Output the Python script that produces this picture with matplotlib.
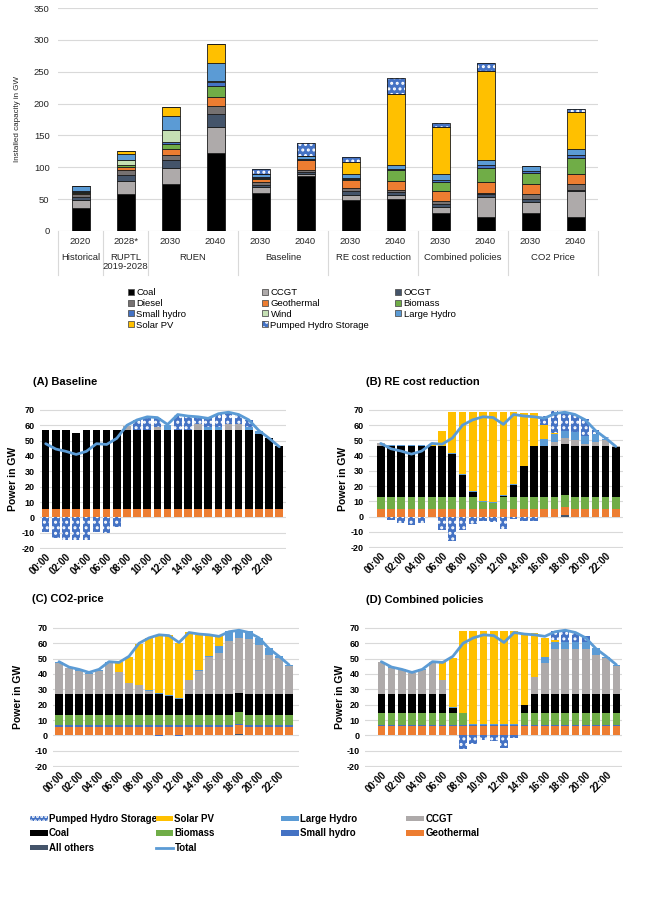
import matplotlib
matplotlib.use("Agg")
from matplotlib import pyplot as plt
from matplotlib.patches import Patch
from matplotlib.lines import Line2D
import numpy as np

plt.rcParams["font.family"] = ["Liberation Sans", "DejaVu Sans"]
plt.rcParams["hatch.linewidth"] = 1.4
plt.rcParams["axes.unicode_minus"] = False

TEXT = "#262626"
GRID = "#D9D9D9"

# ---- installed capacity (top chart) ----
YEARS = ["2020", "2028*", "2030", "2040", "2030", "2040",
         "2030", "2040", "2030", "2040", "2030", "2040"]
GROUPS = ["Historical", "RUPTL\n2019-2028", "RUEN", "Baseline",
          "RE cost reduction", "Combined policies", "CO2 Price"]
GROUP_SIZE = [1, 1, 2, 2, 2, 2, 2]

cap_coal = [36, 58, 74, 122, 59, 86, 48, 50, 29, 21.5, 29, 21.5]
cap_ccgt = [13, 20, 25, 41, 10, 4, 8, 7, 8, 31.5, 17, 40.5]
cap_ocgt = [4, 10, 12, 21, 3.5, 3, 7, 4, 6, 5, 5, 2.5]
cap_diesel = [5, 7, 8, 12.5, 4, 2, 5, 3, 4, 2, 7, 8.5]
cap_geo = [2, 5, 9, 13.5, 4.5, 17, 12, 15, 15, 17, 15, 17]
cap_bio = [1, 3, 8, 17, 2, 0, 1, 16, 15, 22, 18, 25]
cap_shydro = [2, 1, 4, 7, 2, 1.5, 2, 2, 3, 5, 3, 5]
cap_wind = [0, 7, 18, 1, 0, 0, 0, 0, 0, 0, 0, 0]
cap_lhydro = [8, 10, 22, 28, 4, 3.5, 6, 7, 9, 8, 8, 8]
cap_solar = [0, 4, 14, 31, 0, 0, 19, 111, 74, 139, 0, 59]
cap_phs = [0, 0, 0, 0, 9, 21, 8, 25, 6, 13, 0, 4]

CAP_TECHS = ["Coal", "CCGT", "OCGT", "Diesel", "Geothermal", "Biomass",
             "Small hydro", "Wind", "Large Hydro", "Solar PV",
             "Pumped Hydro Storage"]
CAP_SERIES = [cap_coal, cap_ccgt, cap_ocgt, cap_diesel, cap_geo, cap_bio,
              cap_shydro, cap_wind, cap_lhydro, cap_solar, cap_phs]

COLOR = {
    "Coal": "#000000",
    "CCGT": "#AEAAAA",
    "OCGT": "#44546A",
    "Diesel": "#767171",
    "Geothermal": "#ED7D31",
    "Biomass": "#70AD47",
    "Small hydro": "#4472C4",
    "Wind": "#C5E0B4",
    "Large Hydro": "#5B9BD5",
    "Solar PV": "#FFC000",
    "Pumped Hydro Storage": "#4472C4",
    "All others": "#44546A",
    "Total": "#5B9BD5",
}

# ---- hourly dispatch (bottom panels) ----
HOURS = ["00:00", "01:00", "02:00", "03:00", "04:00", "05:00", "06:00", "07:00",
         "08:00", "09:00", "10:00", "11:00", "12:00", "13:00", "14:00", "15:00",
         "16:00", "17:00", "18:00", "19:00", "20:00", "21:00", "22:00", "23:00"]
total = [48, 44.5, 43, 41, 43, 48, 47.5, 51.5, 60, 63.5, 65.5, 65,
         60.5, 67, 66, 65.5, 64.5, 67.5, 68.5, 67, 63.5, 56.5, 51.5, 46]

# (A) Baseline
a_others = [0] * 24
a_geo = [5.3] * 24
a_shydro = [0] * 24
a_bio = [0] * 24
a_coal = [51.7, 51.7, 51.7, 49.7, 51.7, 51.7, 51.7, 51.7, 51.7, 51.7, 51.7, 51.7,
          51.7, 51.7, 51.7, 51.7, 51.7, 51.7, 51.7, 51.7, 51.7, 49.2, 46.2, 41.0]
a_ccgt = [0, 0, 0, 0, 0, 0, 0, 0, 2.5, 0, 0, 2,
          0, 0, 0, 4, 0, 0, 4, 4, 0, 0, 0, 0]
a_lhydro = [0, 0, 0, 0, 0, 0, 0, 0, 0, 0, 0, 0,
            3.5, 0, 0, 0, 2, 2, 0, 0, 2, 2, 0, 0]
a_solar = [0] * 24
a_phs = [-9.5, -13.5, -14.5, -14.5, -14.5, -9.5, -10, -6, 0, 6.5, 8.5, 6,
         0, 10, 9, 4.5, 5.5, 8.5, 7.5, 6, 4.5, 0, 0, 0]

# (B) RE cost reduction
b_others = [0] * 18 + [1.0] + [0] * 5
b_geo = [5.3] * 18 + [5.5] + [5.3] * 5
b_shydro = [0] * 24
b_bio = [7.5, 7.5, 7.5, 7.5, 7.5, 7.5, 7.5, 7.5, 7.5, 7.5, 4.6, 3.9,
         7.5, 7.5, 7.5, 7.5, 7.5, 7.5, 7.5, 7.5, 7.5, 7.5, 7.5, 7.5]
b_coal = [33.4, 33.4, 33.4, 33.4, 33.4, 33.4, 33.4, 28.4, 14.5, 3.3, 0, 0,
          0.7, 7.8, 20.1, 33.4, 33.4, 33.4, 33.5, 33.4, 33.4, 33.4, 33.4, 33.0]
b_ccgt = [1.8, 0, 0, 0, 0, 0, 0, 0, 0, 0, 0, 0,
          0, 0, 0, 0, 0, 2.8, 4, 4, 1.5, 3, 4, 0.3]
b_lhydro = [0, 0.5, 0.5, 0.5, 0.5, 0, 0, 0.6, 0.7, 0.5, 0.5, 0.3,
            0.5, 0.6, 0.6, 0.4, 4.5, 5, 4.5, 5, 5, 5, 0.5, 0]
b_solar = [0, 0, 0, 0, 0, 1.0, 9.8, 26.9, 40.7, 52.1, 58.3, 59.3,
           54.7, 47.5, 34.8, 21.7, 9.6, 0.8, 0, 0, 0, 0, 0, 0]
b_phs = [0, -2.5, -4, -5.5, -4, 0, -8.5, -16, -8.5, -5, -3, -3.5,
         -8, -1.5, -3, -3, 5.8, 14.5, 12.5, 11.5, 11.5, 2.8, 1.3, 0]

# (C) CO2-price
c_others = [0] * 18 + [1.2] + [0] * 5
c_geo = [5.4] * 18 + [5.3] + [5.4] * 5
c_shydro = [1.1] * 18 + [1.0] + [1.1] * 5
c_bio = [7.1] * 18 + [7.5] + [7.1] * 5
c_coal = [13.3, 13.3, 13.3, 13.3, 13.3, 13.3, 13.3, 13.3, 13.3, 13.3, 13.3, 12.0,
          10.1, 13.3, 13.3, 13.3, 13.3, 13.3, 12.8, 13.3, 13.3, 13.3, 13.3, 13.3]
c_ccgt = [20.5, 16.8, 15.1, 13.4, 15.1, 20.5, 14.1, 6.9, 5.8, 2.1, 0, 0,
          0, 9.1, 15.1, 24.1, 26.9, 34.9, 35.7, 35.6, 32.3, 25.4, 23.3, 18.3]
c_lhydro = [0.5, 0.5, 0.5, 0.5, 0.5, 0.5, 0.4, 0.4, 0.4, 0.4, 0.4, 0.4,
            0.4, 0.4, 0.4, 0.4, 4.2, 6.0, 5.4, 5.3, 4.3, 4.7, 1.5, 0.8]
c_solar = [0, 0, 0, 0, 0, 0, 6.1, 16.8, 26.6, 34.1, 38.4, 39.5,
           35.9, 31.0, 23.3, 14.3, 6.6, 0, 0, 0, 0, 0, 0, 0]
c_phs = [0, 0, 0, 0, 0, 0, 0, 0, 0, 0, -0.5, 0,
         -0.4, 0, 0, 0, 0, 0, 0, 0, 0, 0, 0, 0]

# (D) Combined policies
d_others = [0] * 24
d_geo = [5.8] * 24
d_shydro = [1.0] * 24
d_bio = [7.5, 7.5, 7.5, 7.5, 7.5, 7.5, 7.5, 7.5, 7.5, 0, 0, 0,
         0, 0, 7.5, 7.5, 7.5, 7.5, 7.5, 7.5, 7.5, 7.5, 7.5, 7.5]
d_coal = [12.9, 12.9, 12.9, 12.9, 12.9, 12.9, 12.9, 3.7, 0, 0, 0, 0,
          0, 0, 5.4, 12.9, 12.9, 12.9, 12.9, 12.9, 12.9, 12.9, 12.9, 12.9]
d_ccgt = [20.3, 16.7, 15.4, 13.3, 15.4, 20.3, 8.6, 0, 0, 0, 0, 0,
          0, 0, 0, 10.7, 19.7, 28.9, 28.9, 28.9, 28.9, 25.3, 23.1, 18.2]
d_lhydro = [0.4, 0.4, 0.4, 0.4, 0.4, 0.4, 0, 0.3, 0.3, 0.7, 0.7, 0.7,
            0.7, 0.7, 0.3, 0.3, 4.3, 4.7, 4.7, 4.7, 4.7, 4.7, 0.9, 0.6]
d_solar = [0, 0, 0, 0, 0, 0, 11.7, 32.0, 53.7, 60.8, 60.8, 60.8,
           60.8, 60.8, 46.8, 28.6, 12.4, 1.1, 0, 0, 0, 0, 0, 0]
d_phs = [0, 0, 0, 0, 0, 0, 0, 0, -8.7, -5.5, -3, -3.5,
         -8.5, -1.5, 0, 0, 0, 6, 8.1, 6.6, 3.9, 0, 0, 0]

STACK = ["All others", "Geothermal", "Small hydro", "Biomass", "Coal",
         "CCGT", "Large Hydro", "Solar PV", "Pumped Hydro Storage"]
PANELS = [
    ("(A) Baseline", [a_others, a_geo, a_shydro, a_bio, a_coal, a_ccgt, a_lhydro, a_solar, a_phs]),
    ("(B) RE cost reduction", [b_others, b_geo, b_shydro, b_bio, b_coal, b_ccgt, b_lhydro, b_solar, b_phs]),
    ("(C) CO2-price", [c_others, c_geo, c_shydro, c_bio, c_coal, c_ccgt, c_lhydro, c_solar, c_phs]),
    ("(D) Combined policies", [d_others, d_geo, d_shydro, d_bio, d_coal, d_ccgt, d_lhydro, d_solar, d_phs]),
]

W, H = 668, 924


def frac(left, top, right, bottom):
    return [left / W, 1 - bottom / H, (right - left) / W, (bottom - top) / H]


fig = plt.figure(figsize=(W / 100, H / 100), dpi=100)

# ================= top chart =================
ax = fig.add_axes(frac(58, 8, 598, 231))
x = np.arange(len(YEARS))
bottom = np.zeros(len(YEARS))
for name, vals in zip(CAP_TECHS, CAP_SERIES):
    vals = np.array(vals, dtype=float)
    if name == "Pumped Hydro Storage":
        ax.bar(x, vals, 0.4, bottom=bottom, color=COLOR[name], edgecolor="white",
               hatch="...", linewidth=0, zorder=2)
        ax.bar(x, vals, 0.4, bottom=bottom, fill=False, edgecolor="#1a1a1a",
               linewidth=0.6, zorder=3)
    else:
        ax.bar(x, vals, 0.4, bottom=bottom, color=COLOR[name], edgecolor="#1a1a1a",
               linewidth=0.6, zorder=2)
    bottom += vals
ax.set_xlim(-0.5, len(YEARS) - 0.5)
ax.set_ylim(0, 350)
ax.set_yticks(np.arange(0, 351, 50))
ax.set_xticks([])
ax.grid(axis="y", color=GRID, linewidth=0.8)
ax.set_axisbelow(True)
for s in ax.spines.values():
    s.set_visible(False)
ax.tick_params(axis="y", length=0, labelsize=6.8, labelcolor=TEXT, pad=6)

trans = ax.get_xaxis_transform()
for i, yr in enumerate(YEARS):
    ax.text(i, -0.045, yr, transform=trans, ha="center", va="center",
            fontsize=6.8, color=TEXT)
edges = np.concatenate([[0], np.cumsum(GROUP_SIZE)]) - 0.5
for g, name in enumerate(GROUPS):
    c = (edges[g] + edges[g + 1]) / 2
    if "\n" in name:
        ax.text(c, -0.098, name, transform=trans, ha="center", va="top",
                fontsize=6.8, color=TEXT, linespacing=1.0)
    else:
        ax.text(c, -0.12, name, transform=trans, ha="center", va="center",
                fontsize=6.8, color=TEXT)
for e in edges:
    ax.plot([e, e], [0, -0.197], transform=trans, clip_on=False, color=GRID, linewidth=0.8)
fig.text(18 / W, 1 - 119.5 / H, "Installed capacity in GW", rotation=90,
         ha="center", va="center", fontsize=5.8, color=TEXT)


def cap_handle(name):
    if name == "Pumped Hydro Storage":
        return (Patch(facecolor=COLOR[name], edgecolor="white", hatch="...", linewidth=0),
                Patch(fill=False, edgecolor="#555555", linewidth=0.6))
    return Patch(facecolor=COLOR[name], edgecolor="#555555", linewidth=0.6)


cols = [CAP_TECHS[0::3], CAP_TECHS[1::3], CAP_TECHS[2::3]]
for cx, names in zip([128, 262, 395], cols):
    fig.legend([cap_handle(n) for n in names], names, loc="upper left",
               bbox_to_anchor=(cx / W, 1 - 288 / H), frameon=False,
               fontsize=6.8, handlelength=0.6, handleheight=0.6,
               handletextpad=0.3, labelspacing=0.2, borderpad=0, borderaxespad=0)

# ================= bottom panels =================
boxes = [
    (frac(40, 409, 286, 549), (-0.56, 23.66), (33, 382), 13),
    (frac(369, 409, 623, 548), (-1.15, 23.7), (366, 382), 343),
    (frac(53, 627, 299, 767), (-0.6, 24.0), (32, 599), 18),
    (frac(365, 627, 622, 767), (-1.6, 23.55), (366, 600), 340),
]
hx = np.arange(len(HOURS))
for (title, series), (pos, xlim, tpos, ylx) in zip(PANELS, boxes):
    ax = fig.add_axes(pos)
    base = np.zeros(len(HOURS))
    for name, vals in zip(STACK, series):
        vals = np.array(vals, dtype=float)
        pos_vals = np.clip(vals, 0, None)
        if name == "Pumped Hydro Storage":
            ax.bar(hx, pos_vals, 0.75, bottom=base, color=COLOR[name], edgecolor="white",
                   hatch="...", linewidth=0, zorder=2)
            ax.bar(hx, np.clip(vals, None, 0), 0.75, color=COLOR[name], edgecolor="white",
                   hatch="...", linewidth=0, zorder=2)
        else:
            ax.bar(hx, pos_vals, 0.75, bottom=base, color=COLOR[name], linewidth=0, zorder=2)
        base += pos_vals
    ax.plot(hx, total, color=COLOR["Total"], linewidth=2.0, zorder=4,
            solid_capstyle="round")
    ax.set_xlim(*xlim)
    ax.set_ylim(-20.6, 70.6)
    ax.set_yticks(np.arange(-20, 71, 10))
    ax.set_xticks(hx[::2])
    ax.set_xticklabels(HOURS[::2], rotation=45, ha="right", rotation_mode="anchor",
                       fontweight="bold", fontsize=7)
    for lab in ax.get_yticklabels():
        lab.set_fontweight("bold")
    ax.tick_params(axis="both", length=0, labelcolor="#000000")
    ax.tick_params(axis="y", labelsize=6.5, pad=4)
    ax.tick_params(axis="x", pad=2)
    ax.grid(axis="y", color=GRID, linewidth=0.8)
    ax.set_axisbelow(True)
    for s in ax.spines.values():
        s.set_visible(False)
    fig.text(tpos[0] / W, 1 - tpos[1] / H, title, ha="left", va="center",
             fontsize=8, fontweight="bold")
    fig.text(ylx / W, pos[1] + pos[3] / 2, "Power in GW", rotation=90,
             ha="center", va="center", fontsize=7.5, fontweight="bold")


def disp_handle(name):
    if name == "Total":
        return Line2D([], [], color=COLOR[name], linewidth=2)
    if name == "Pumped Hydro Storage":
        return Patch(facecolor=COLOR[name], edgecolor="white", hatch="....", linewidth=0)
    return Patch(facecolor=COLOR[name], linewidth=0)


LEG_COLS = [["Pumped Hydro Storage", "Coal", "All others"],
            ["Solar PV", "Biomass", "Total"],
            ["Large Hydro", "Small hydro"],
            ["CCGT", "Geothermal"]]
for cx, names in zip([30, 155.5, 281, 406.5], LEG_COLS):
    fig.legend([disp_handle(n) for n in names], names, loc="upper left",
               bbox_to_anchor=(cx / W, 1 - 814 / H), frameon=False,
               prop={"size": 7, "weight": "bold"}, handlelength=1.8, handleheight=0.5,
               handletextpad=0.15, labelspacing=0.45, borderpad=0, borderaxespad=0)

fig.savefig("out.png", dpi=100)
